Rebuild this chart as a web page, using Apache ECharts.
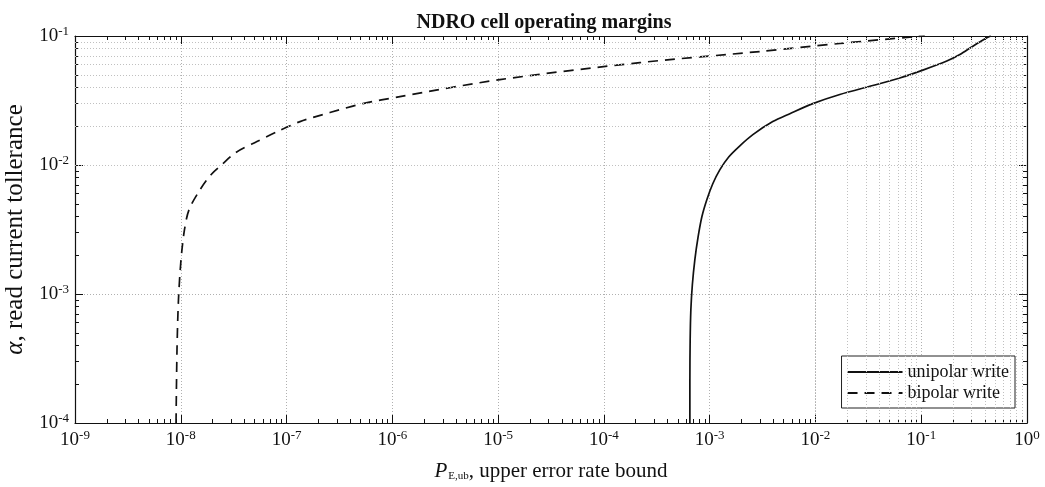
<!DOCTYPE html>
<html>
<head>
<meta charset="UTF-8">
<title>NDRO cell operating margins</title>
<script src="https://cdn.jsdelivr.net/npm/echarts@6/dist/echarts.min.js"></script>
<style>
html,body{margin:0;padding:0;background:#fff;}
#chart{width:1045px;height:487px;}
</style>
</head>
<body>
<div id="chart"></div>
<script type="text/javascript">
// unipolar write (solid)
var uniX=[6.50e-4,6.50e-4,6.54e-4,6.64e-4,6.86e-4,7.24e-4,7.78e-4,8.44e-4,9.40e-4,1.07e-3,1.25e-3,1.52e-3,1.93e-3,2.56e-3,3.95e-3,5.73e-3,9.44e-3,1.70e-2,3.48e-2,6.27e-2,0.1035,0.1745,0.232,0.308,0.417,0.455];
var uniY=[1e-4,2.15e-4,4.40e-4,7.53e-4,1.18e-3,1.84e-3,2.78e-3,3.97e-3,5.38e-3,7.16e-3,9.21e-3,1.16e-2,1.41e-2,1.72e-2,2.17e-2,2.50e-2,2.99e-2,3.52e-2,4.13e-2,4.72e-2,5.44e-2,6.40e-2,7.18e-2,8.34e-2,9.68e-2,0.1];
// bipolar write (dashed)
var biX=[9.02e-9,9.21e-9,9.51e-9,1.005e-8,1.084e-8,1.196e-8,1.52e-8,1.93e-8,2.45e-8,3.32e-8,5.25e-8,8.1e-8,1.34e-7,2.57e-7,5.27e-7,1.18e-6,1.04e-5,2.19e-4,2.98e-3,1.70e-2,9.08e-2,0.108];
var biY=[1e-4,3.69e-4,9.02e-4,1.84e-3,3.15e-3,4.50e-3,6.43e-3,8.41e-3,1.007e-2,1.25e-2,1.52e-2,1.81e-2,2.17e-2,2.55e-2,2.99e-2,3.39e-2,4.59e-2,6.22e-2,7.58e-2,8.75e-2,9.91e-2,0.1];
var xDecades=[-9,-8,-7,-6,-5,-4,-3,-2,-1,0];
var yDecades=[-4,-3,-2,-1];

var FONT='Liberation Serif';
function pairs(xs,ys){var r=[];for(var i=0;i<xs.length;i++)r.push([xs[i],ys[i]]);return r;}
function expLabel(v){return '10{s|'+Math.round(Math.log10(v))+'}';}

// minor grid lines (2..9 x 10^k)
var gridLines=[];
for(var i=0;i<xDecades.length-1;i++){for(var m=2;m<=9;m++)gridLines.push({xAxis:m*Math.pow(10,xDecades[i])});}
for(var i=0;i<yDecades.length-1;i++){for(var m=2;m<=9;m++)gridLines.push({yAxis:m*Math.pow(10,yDecades[i])});}

var labelRich={s:{fontSize:13,fontFamily:FONT,color:'#111',verticalAlign:'top',padding:[0,0,9,0]}};
var gridStyle={show:true,lineStyle:{color:'#b0b0b0',type:[1,2],width:1}};
var tickStyle={inside:true,length:8,lineStyle:{color:'#111'}};
var minorStyle={show:true,splitNumber:9,length:4,lineStyle:{color:'#111'}};

var chart=echarts.init(document.getElementById('chart'));
var option={
  backgroundColor:'#fff',
  animation:false,
  title:{text:'NDRO cell operating margins',left:539,textAlign:'center',top:8,
    textStyle:{fontFamily:FONT,fontSize:20,fontWeight:'bold',color:'#111'}},
  grid:{left:75,right:18,top:36,bottom:64,containLabel:false,outerBoundsMode:'none'},
  legend:{right:30,bottom:79,orient:'vertical',backgroundColor:'#fff',borderColor:'#222',borderWidth:1,
    padding:[7,6,6,5],itemWidth:55,itemHeight:14,itemGap:3,
    itemStyle:{opacity:0},
    textStyle:{fontFamily:FONT,fontSize:18,color:'#111'},
    data:['unipolar write','bipolar write']},
  xAxis:[{type:'log',logBase:10,min:1e-9,max:1,position:'bottom',
    name:'{p|P}{sub|E,ub}{t|, upper error rate bound}',nameLocation:'middle',nameGap:38,
    nameTextStyle:{rich:{p:{fontFamily:FONT,fontStyle:'italic',fontSize:21,color:'#111'},
      sub:{fontFamily:FONT,fontSize:11,color:'#111',verticalAlign:'bottom',padding:[10,0,0,1]},
      t:{fontFamily:FONT,fontSize:21,color:'#111'}}},
    axisLine:{lineStyle:{color:'#111',width:1.2}},
    axisTick:tickStyle,minorTick:minorStyle,
    splitLine:gridStyle,
    axisLabel:{formatter:expLabel,margin:6,fontFamily:FONT,fontSize:19,color:'#111',rich:labelRich}},
   {type:'log',logBase:10,min:1e-9,max:1,position:'top',
    axisLine:{lineStyle:{color:'#111',width:1.2}},
    axisTick:tickStyle,minorTick:minorStyle,
    splitLine:{show:false},axisLabel:{show:false}}],
  yAxis:[{type:'log',logBase:10,min:1e-4,max:0.1,position:'left',
    name:'{a|α}{t|, read current tollerance}',nameLocation:'middle',nameGap:34,
    nameTextStyle:{rich:{a:{fontFamily:FONT,fontStyle:'italic',fontSize:25,color:'#111'},
      t:{fontFamily:FONT,fontSize:25,color:'#111'}}},
    axisLine:{lineStyle:{color:'#111',width:1.2}},
    axisTick:tickStyle,minorTick:minorStyle,
    splitLine:gridStyle,
    axisLabel:{formatter:expLabel,margin:6,fontFamily:FONT,fontSize:19,color:'#111',rich:labelRich}},
   {type:'log',logBase:10,min:1e-4,max:0.1,position:'right',
    axisLine:{lineStyle:{color:'#111',width:1.2}},
    axisTick:tickStyle,minorTick:minorStyle,
    splitLine:{show:false},axisLabel:{show:false}}],
  series:[
    {name:'unipolar write',type:'line',xAxisIndex:0,yAxisIndex:0,showSymbol:false,symbol:'none',smooth:0.3,
     lineStyle:{color:'#111',width:1.7},itemStyle:{color:'#111'},
     data:pairs(uniX,uniY),
     markLine:{silent:true,symbol:'none',label:{show:false},animation:false,
       lineStyle:{color:'#c0c0c0',type:[1,2],width:1},data:gridLines}},
    {name:'bipolar write',type:'line',xAxisIndex:0,yAxisIndex:0,showSymbol:false,symbol:'none',smooth:0.3,
     lineStyle:{color:'#111',width:1.7,type:[10,7]},itemStyle:{color:'#111'},
     data:pairs(biX,biY)}
  ]
};
chart.setOption(option);
</script>
</body>
</html>
